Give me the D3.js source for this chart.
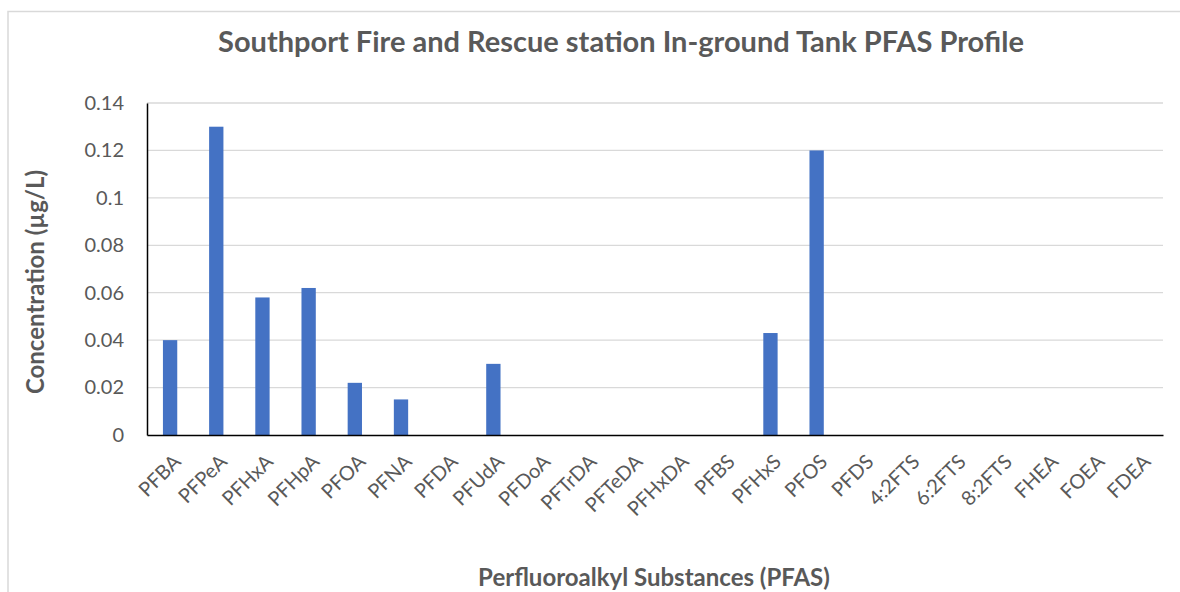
<!DOCTYPE html>
<html>
<head>
<meta charset="utf-8">
<script src="https://cdn.jsdelivr.net/npm/d3@7"></script>
<style>
body { margin: 0; background: #fff; }
svg { display: block; }
text { font-family: Lato, "Open Sans", sans-serif; fill: #595959; }
</style>
</head>
<body>
<svg id="chart" width="1180" height="592"></svg>
<script>
const categories = ["PFBA","PFPeA","PFHxA","PFHpA","PFOA","PFNA","PFDA","PFUdA","PFDoA","PFTrDA","PFTeDA","PFHxDA","PFBS","PFHxS","PFOS","PFDS","4:2FTS","6:2FTS","8:2FTS","FHEA","FOEA","FDEA"];
const values = [0.04,0.13,0.058,0.062,0.022,0.015,0,0.03,0,0,0,0,0,0.043,0.12,0,0,0,0,0,0,0];
const yTicks = [0,0.02,0.04,0.06,0.08,0.1,0.12,0.14];
const title = "Southport Fire and Rescue station In-ground Tank PFAS Profile";
const xTitle = "Perfluoroalkyl Substances (PFAS)";
const yTitle = "Concentration (µg/L)";

(function () {
const svg = d3.select("#chart");
const mLeft = 147, mRight = 1163, mTop = 103, mBottom = 435;

// chart border
svg.append("path").attr("d", "M8,600 V11.5 H1190")
  .attr("fill", "none").attr("stroke", "#d9d9d9").attr("stroke-width", 1.5);

const x = d3.scaleBand().domain(categories).range([mLeft, mRight]).paddingInner(0.69).paddingOuter(0.345);
const y = d3.scaleLinear().domain([0, 0.14]).range([mBottom, mTop]);

// gridlines
svg.append("g").selectAll("line").data(yTicks.slice(1)).join("line")
  .attr("x1", mLeft).attr("x2", mRight)
  .attr("y1", d => y(d)).attr("y2", d => y(d))
  .attr("stroke", "#d9d9d9").attr("stroke-width", 1.3);

// bars
svg.append("g").selectAll("rect").data(categories).join("rect")
  .attr("x", d => x(d)).attr("width", x.bandwidth())
  .attr("y", (d, i) => y(values[i])).attr("height", (d, i) => mBottom - y(values[i]))
  .attr("fill", "#4472c4");

// y axis
const yAxis = svg.append("g").attr("transform", `translate(${mLeft},0)`)
  .call(d3.axisLeft(y).tickValues(yTicks).tickSize(0).tickPadding(23).tickFormat(d => d3.format("")(d)));
yAxis.select(".domain").attr("stroke", "#000").attr("stroke-width", 1.5);
yAxis.selectAll("text").attr("font-size", 20).attr("fill", "#595959")
  .attr("font-family", "Lato, 'Open Sans', sans-serif");

// x axis
const xAxis = svg.append("g").attr("transform", `translate(0,${mBottom})`)
  .call(d3.axisBottom(x).tickSize(0).tickPadding(0));
xAxis.select(".domain").attr("stroke", "#000").attr("stroke-width", 1.5);
xAxis.selectAll("text")
  .attr("font-size", 20).attr("fill", "#595959")
  .attr("font-family", "Lato, 'Open Sans', sans-serif")
  .attr("text-anchor", "end")
  .attr("dy", null)
  .attr("transform", "translate(12,28) rotate(-45)");

// titles
svg.append("text").attr("x", 621).attr("y", 52).attr("text-anchor", "middle")
  .attr("font-size", 29).attr("font-weight", "bold").text(title);
svg.append("text").attr("x", 654).attr("y", 586).attr("text-anchor", "middle")
  .attr("font-size", 24).attr("font-weight", "bold").text(xTitle);
svg.append("text").attr("transform", "translate(44,282) rotate(-90)").attr("text-anchor", "middle")
  .attr("font-size", 24).attr("font-weight", "bold").text(yTitle);
})();
</script>
</body>
</html>
